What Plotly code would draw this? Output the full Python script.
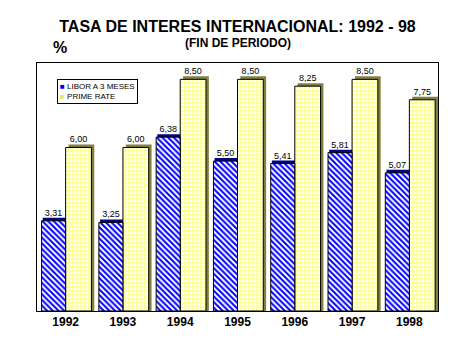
import plotly.graph_objects as go

years = ["1992", "1993", "1994", "1995", "1996", "1997", "1998"]
libor = [3.31, 3.25, 6.38, 5.50, 5.41, 5.81, 5.07]
prime = [6.00, 6.00, 8.50, 8.50, 8.25, 8.50, 7.75]
libor_name = "LIBOR A 3 MESES"
prime_name = "PRIME RATE"

FONT = "Liberation Sans, Arial, sans-serif"

def fmt(v):
    return f"{v:.2f}".replace(".", ",")

shadow_up = 0.11

# page body has an 8px default margin; figure is sized to fit the window
W, H = 468, 348
L, T, R, B = 29, 55, 38, 45
PW, PH = W - L - R, H - T - B

fig = go.Figure()
# shadows (3D depth)
fig.add_trace(go.Bar(
    x=years, y=[v + shadow_up for v in libor], offset=-0.40, width=0.42,
    marker=dict(color="#000080", line=dict(width=0)), showlegend=False, hoverinfo="skip"))
fig.add_trace(go.Bar(
    x=years, y=[v + shadow_up for v in prime], offset=0.05, width=0.45,
    marker=dict(color="#808040", line=dict(width=0)), showlegend=False, hoverinfo="skip"))
# main bars (prime first so libor labels stay on top)
fig.add_trace(go.Bar(
    x=years, y=prime, name=prime_name, offset=0.0, width=0.45, showlegend=False,
    text=[fmt(v) for v in prime], textposition="outside", cliponaxis=False,
    textfont=dict(family=FONT, size=9, color="black"),
    marker=dict(color="#FFFF99", line=dict(color="black", width=1),
                pattern=dict(shape=".", fgcolor="white", bgcolor="#FFFF99",
                             fillmode="replace", size=4, solidity=0.3))))
fig.add_trace(go.Bar(
    x=years, y=libor, name=libor_name, offset=-0.42, width=0.42, showlegend=False,
    text=[fmt(v) for v in libor], textposition="outside", cliponaxis=False,
    textfont=dict(family=FONT, size=9, color="black"),
    marker=dict(color="#0000FF", line=dict(color="black", width=1),
                pattern=dict(shape="\\", fgcolor="#0000FF", bgcolor="white",
                             fillmode="replace", size=4, solidity=0.5))))

legend_text = (
    f'<span style="color:#0000FF">■</span> {libor_name}<br>'
    f'<span style="color:#E8E860">■</span> {prime_name}'
)

fig.update_layout(
    width=W, height=H,
    margin=dict(l=L, r=R, t=T, b=B),
    barmode="overlay",
    showlegend=False,
    paper_bgcolor="white", plot_bgcolor="white",
    font=dict(family=FONT, color="black"),
    title=dict(text="<b>TASA DE INTERES INTERNACIONAL: 1992 - 98</b>",
               x=0.5, xref="paper", y=1 - 18 / H, yref="container", yanchor="middle",
               font=dict(size=16, family=FONT)),
    annotations=[
        dict(text="<b>(FIN DE PERIODO)</b>", x=0.5, xref="paper",
             y=1 + (63 - 43) / PH, yref="paper", yanchor="middle",
             showarrow=False, font=dict(size=12, family=FONT)),
        dict(text="<b>%</b>", x=(51 - 37) / PW, xref="paper",
             y=1 + (63 - 48) / PH, yref="paper", yanchor="middle",
             showarrow=False, font=dict(size=16, family=FONT)),
        dict(text=legend_text, x=(57 - 37) / PW, xref="paper", xanchor="left",
             y=1 - (79 - 63) / PH, yref="paper", yanchor="top", align="left",
             showarrow=False, bgcolor="white", bordercolor="black", borderwidth=1,
             borderpad=2, font=dict(size=8, family=FONT)),
    ],
)

fig.update_xaxes(showline=True, linecolor="black", linewidth=1, mirror=True,
                 ticks="", tickfont=dict(size=12, family=FONT),
                 tickprefix="<b>", ticksuffix="</b>", showgrid=False)
fig.update_yaxes(range=[0, 9.1], showline=True, linecolor="black", linewidth=1,
                 mirror=True, showticklabels=False, showgrid=False, zeroline=False,
                 ticks="")

fig.write_html("out.html")
